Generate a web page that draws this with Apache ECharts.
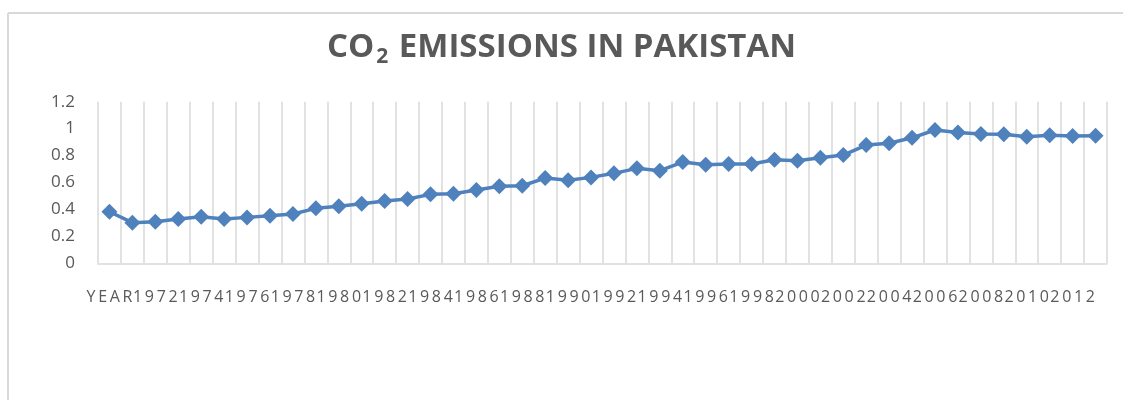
<!DOCTYPE html>
<html>
<head>
<meta charset="utf-8">
<script src="https://cdn.jsdelivr.net/npm/echarts@6/dist/echarts.min.js"></script>
<style>
html,body{margin:0;padding:0;background:#fff;}
#chart{width:1123px;height:400px;}
</style>
</head>
<body>
<div id="chart"></div>
<script>
const categories = ['YEAR','1971','1972','1973','1974','1975','1976','1977','1978','1979','1980','1981','1982','1983','1984','1985','1986','1987','1988','1989','1990','1991','1992','1993','1994','1995','1996','1997','1998','1999','2000','2001','2002','2003','2004','2005','2006','2007','2008','2009','2010','2011','2012','2013'];
const co2Values = [0.383,0.302,0.309,0.329,0.346,0.329,0.341,0.353,0.366,0.408,0.423,0.443,0.462,0.477,0.512,0.517,0.544,0.572,0.576,0.633,0.616,0.638,0.668,0.705,0.688,0.752,0.732,0.737,0.737,0.769,0.762,0.784,0.804,0.878,0.891,0.932,0.990,0.972,0.960,0.958,0.940,0.950,0.945,0.947];
const yTicks = [0, 0.2, 0.4, 0.6, 0.8, 1, 1.2];

const chart = echarts.init(document.getElementById('chart'), null, {renderer:'canvas'});
const spaced = s => s.split('').join('\u2009');
chart.setOption({
  animation: false,
  backgroundColor: '#ffffff',
  title: {
    text: '{a|CO}{s|2}{a| EMISSIONS IN PAKISTAN}',
    left: 'center',
    top: 23,
    textStyle: {
      rich: {
        a: {fontFamily: 'Open Sans', fontWeight: 'bold', fontSize: 33, color: '#595959', lineHeight: 40},
        s: {fontFamily: 'Open Sans', fontWeight: 'bold', fontSize: 21, color: '#595959', lineHeight: 40, padding: [18,2,0,2]}
      }
    }
  },
  graphic: [
    {type:'line', shape:{x1:8,y1:13,x2:1123,y2:13}, style:{stroke:'#d9d9d9', lineWidth:2}},
    {type:'line', shape:{x1:8,y1:13,x2:8,y2:400}, style:{stroke:'#d9d9d9', lineWidth:2}}
  ],
  grid: {left: 98, right: 16, top: 101.7, bottom: 136.7, containLabel: false},
  xAxis: {
    type: 'category',
    data: categories,
    boundaryGap: true,
    axisLine: {show: true, lineStyle: {color: '#d9d9d9', width: 1.5}},
    axisTick: {show: false, interval: 0},
    splitLine: {show: true, interval: 0, lineStyle: {color: '#d9d9d9', width: 1.5}},
    axisLabel: {
      interval: 1,
      margin: 26,
      color: '#595959',
      fontFamily: 'Open Sans',
      fontSize: 16,
      formatter: v => spaced(v)
    }
  },
  yAxis: {
    type: 'value',
    min: yTicks[0],
    max: yTicks[yTicks.length-1],
    interval: 0.2,
    axisLine: {show: false},
    axisTick: {show: false},
    splitLine: {show: false},
    axisLabel: {
      margin: 23,
      color: '#595959',
      fontFamily: 'Open Sans',
      fontSize: 17,
      formatter: v => String(Math.round(v*10)/10)
    }
  },
  series: [{
    type: 'line',
    data: co2Values,
    symbol: 'diamond',
    symbolSize: 16,
    showAllSymbol: true,
    lineStyle: {color: '#4f81bd', width: 3.5},
    itemStyle: {color: '#4f81bd'}
  }]
});
</script>
</body>
</html>
